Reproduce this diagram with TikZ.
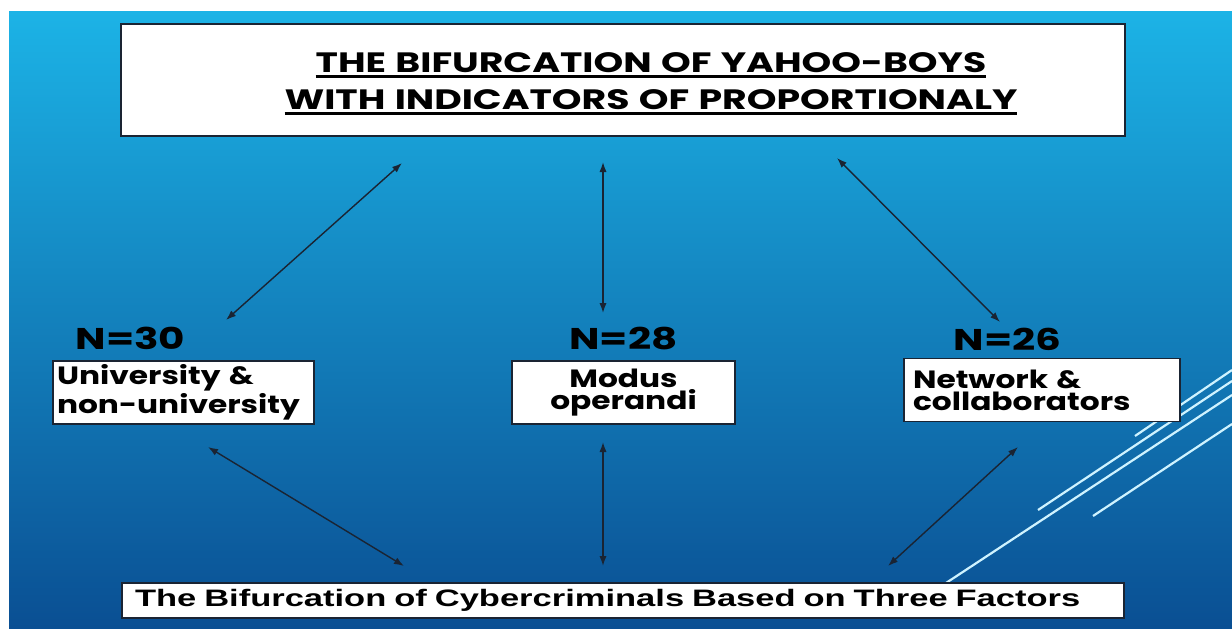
\documentclass[tikz,border=0pt]{standalone}
\usepackage{fontspec}
\usepackage{tikz}
\usetikzlibrary{arrows.meta, positioning, calc}
\newfontfamily\gothic[FakeStretch=1.35]{Poppins}
\newfontfamily\gothicnarrow[FakeStretch=1.25]{Poppins}
\newfontfamily\arialwide[FakeStretch=1.45]{Liberation Sans}
\definecolor{slidetop}{HTML}{1CB3E6}
\definecolor{slidemid}{HTML}{0C7FC6}
\definecolor{slidebottom}{HTML}{0A4F93}
\definecolor{inkdark}{HTML}{1A2433}
\definecolor{streak}{HTML}{CFF3FF}
\newcommand{\thickul}[1]{\setbox0\hbox{#1}\leavevmode\rlap{\raisebox{-2.6pt}{\rule{\wd0}{1.4pt}}}\box0}
\tikzstyle{heading} = [rectangle, minimum width=502pt, minimum height=56pt, text width=480pt, align=center, inner sep=0pt, draw=inkdark, line width=0.8pt, fill=white, font=\gothic\bfseries\fontsize{14}{18.5}\selectfont]
\tikzstyle{factor} = [rectangle, minimum height=31.5pt, inner sep=0pt, draw=inkdark, line width=0.7pt, fill=white, text=black, font=\gothicnarrow\bfseries\fontsize{12.5}{11}\selectfont]
\tikzstyle{count} = [inner sep=0pt, text=black, font=\gothic\bfseries\fontsize{15}{15}\selectfont]
\tikzstyle{basebox} = [rectangle, minimum width=501pt, minimum height=17.5pt, text width=488pt, align=left, inner xsep=6.5pt, inner ysep=0pt, draw=inkdark, line width=0.7pt, fill=white, font=\arialwide\bfseries\fontsize{11.9}{14}\selectfont]
\tikzstyle{arrow} = [line width=0.7pt, draw=inkdark, {Latex[length=5pt,width=3.6pt]}-{Latex[length=5pt,width=3.6pt]}]
\tikzstyle{streakline} = [draw=streak, line width=1.1pt]

\begin{document}
\begin{tikzpicture}[x=0.5pt, y=-0.5pt]
        \useasboundingbox (0,0) rectangle (1232,628);
        % Slide background
        \fill[white] (0,0) rectangle (1232,628);
        \shade[top color=slidetop, middle color=slidemid, bottom color=slidebottom] (9,11) rectangle (1232,628);

        % Streaks at the right
        \draw [streakline] (1135,436) -- (1232,370);
        \draw [streakline] (1038,510) -- (1232,381);
        \draw [streakline] (946,583) -- (1232,395);
        \draw [streakline] (1093,516) -- (1232,424);

        % Heading
        \node (title) [heading] at (623,80) {\rule{0pt}{13.8pt}\hspace*{28pt}\thickul{THE BIFURCATION OF YAHOO-BOYS}\\\hspace*{28pt}\thickul{WITH INDICATORS OF PROPORTIONALY}};

        % Three factors
        \node (univ) [factor, minimum width=130.5pt, text width=126.5pt, align=left] at (183.5,392.5) {University \&\\non-university};
        \node (modus) [factor, minimum width=111.5pt, text width=111.5pt, align=center] at (623.5,392.5) {Modus\\operandi};
        \node (network) [factor, minimum width=138pt, text width=129pt, align=left] at (1042,390) {Network \&\\collaborators};

        % Counts
        \node (n30) [count, above right=5pt and 11.5pt of univ.north west] {N=30};
        \node (n28) [count, above=5pt of modus] {N=28};
        \node (n26) [count, above right=3.5pt and 25pt of network.north west] {N=26};

        % Base
        \node (base) [basebox] at (623,600.5) {The Bifurcation of Cybercriminals Based on Three Factors};

        % Arrow ends
        \coordinate (tl) at (402,163);
        \coordinate (tm) at (603,162);
        \coordinate (tr) at (837,158);
        \coordinate (ul) at (226,320);
        \coordinate (um) at (603,313);
        \coordinate (ur) at (1000,322);
        \coordinate (ll) at (208,447);
        \coordinate (lm) at (603,442);
        \coordinate (lr) at (1018,447);
        \coordinate (bl) at (404,566);
        \coordinate (bm) at (603,566);
        \coordinate (br) at (888,566);

        % Arrows
        \draw [arrow] (tl) -- (ul);
        \draw [arrow] (tm) -- (um);
        \draw [arrow] (tr) -- (ur);
        \draw [arrow] (ll) -- (bl);
        \draw [arrow] (lm) -- (bm);
        \draw [arrow] (lr) -- (br);
      \end{tikzpicture}
\end{document}
